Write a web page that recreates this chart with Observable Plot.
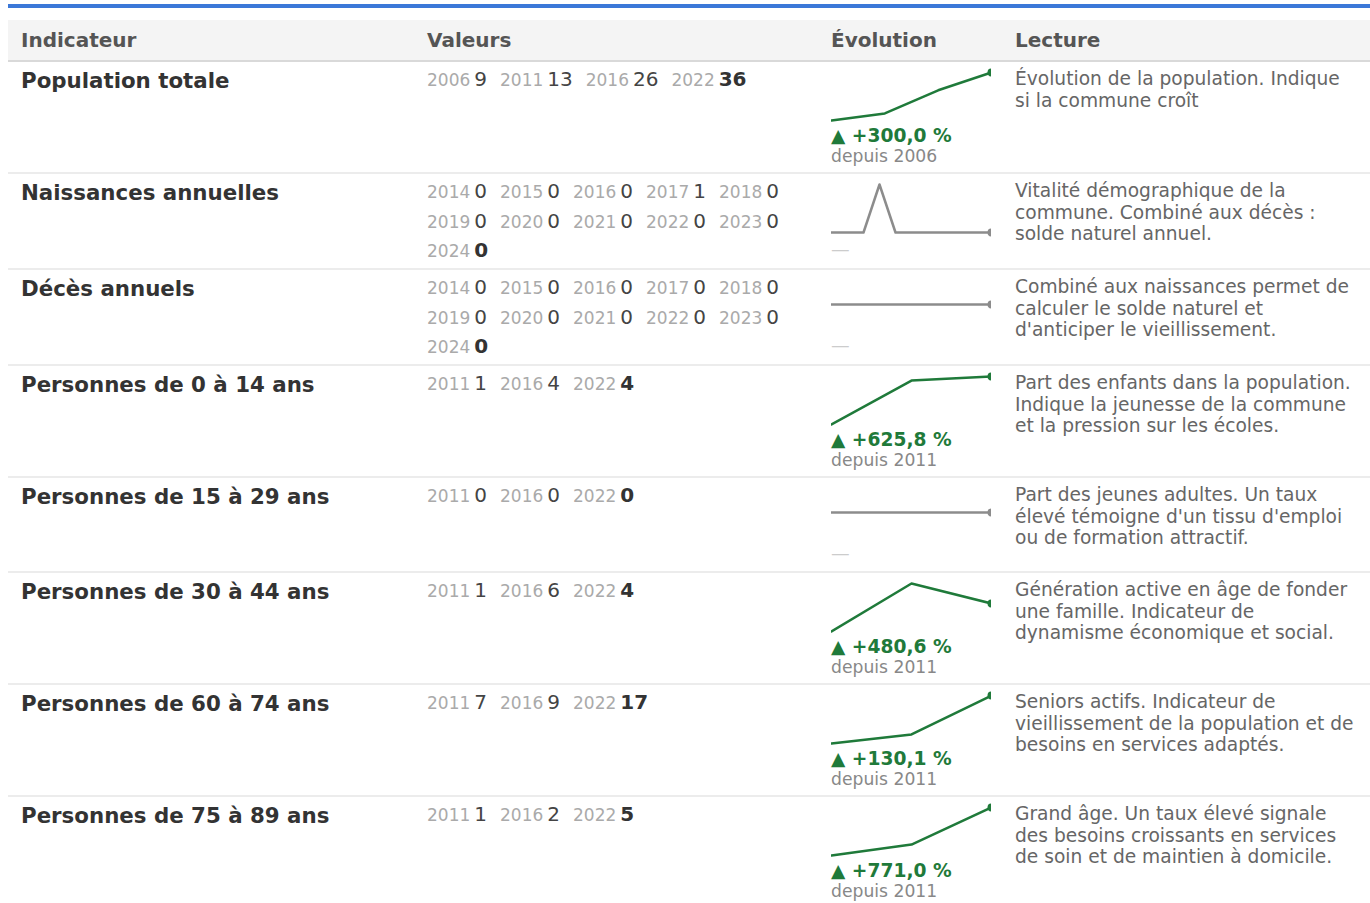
<!DOCTYPE html>
<html lang="fr">
<head>
<meta charset="utf-8">
<script src="https://cdn.jsdelivr.net/npm/d3@7"></script>
<script src="https://cdn.jsdelivr.net/npm/@observablehq/plot@0.6"></script>
<style>
html, body { margin:0; padding:0; background:#fff; }
body { font-family: "DejaVu Sans", sans-serif; }
#wrap { position:absolute; left:8px; top:4px; width:1362px; border-top:4px solid #3b78d8; padding-top:12px; }
table { border-collapse: collapse; table-layout: fixed; width:1362px; }
th { background:#f4f4f4; color:#555; font-weight:bold; font-size:20px; line-height:24px; text-align:left; padding:8px 12px 8px 13px; border-bottom:2px solid #d9d9d9; }
td { vertical-align: top; padding:5px 12px 5px 13px; border-bottom:2px solid #ececec; }
td.evo { padding-right:11px; }
td.lec, th.lec { padding-right:13px; }
td.lec { padding-top:6px; }
td.ind { font-weight:bold; font-size:21.33px; line-height:27px; color:#333; }
.vals { display:flex; flex-wrap:wrap; column-gap:13px; row-gap:4.5px; }
.item { display:block; height:25px; line-height:25px; white-space:nowrap; }
.yr { font-size:17px; color:#aaa; margin-right:4px; }
.v { font-size:20px; color:#444; }
.v.last { font-weight:bold; color:#333; }
td.lec { font-size:18.64px; line-height:21.5px; color:#666; }
.chg { font-weight:bold; font-size:18.67px; line-height:21px; height:21px; white-space:nowrap; }
.since { font-size:17.2px; line-height:21px; height:21px; color:#888; }
.dash { font-size:18.67px; line-height:25px; height:25px; color:#ccc; }
svg.spark { display:block; overflow:hidden; }
</style>
</head>
<body>
<div id="wrap"></div>
<script>
// ---- Data ----
const indicateurs = [
  "Population totale",
  "Naissances annuelles",
  "Décès annuels",
  "Personnes de 0 à 14 ans",
  "Personnes de 15 à 29 ans",
  "Personnes de 30 à 44 ans",
  "Personnes de 60 à 74 ans",
  "Personnes de 75 à 89 ans"
];
const anneesPopulation = [2006, 2011, 2016, 2022];
const anneesEtatCivil = [2014, 2015, 2016, 2017, 2018, 2019, 2020, 2021, 2022, 2023, 2024];
const anneesAges = [2011, 2016, 2022];

const population = [9, 13, 26, 36];
const naissances = [0, 0, 0, 1, 0, 0, 0, 0, 0, 0, 0];
const deces = [0, 0, 0, 0, 0, 0, 0, 0, 0, 0, 0];
const age0a14 = [0.5511, 3.71, 4.0];
const age15a29 = [0, 0, 0];
const age30a44 = [0.66, 6.1, 3.832];
const age60a74 = [7.2, 8.96, 16.567];
const age75a89 = [0.55, 1.52, 4.7905];

const lectures = [
  "Évolution de la population. Indique si la commune croît",
  "Vitalité démographique de la commune. Combiné aux décès\u00a0: solde naturel annuel.",
  "Combiné aux naissances permet de calculer le solde naturel et d'anticiper le vieillissement.",
  "Part des enfants dans la population. Indique la jeunesse de la commune et la pression sur les écoles.",
  "Part des jeunes adultes. Un taux élevé témoigne d'un tissu d'emploi ou de formation attractif.",
  "Génération active en âge de fonder une famille. Indicateur de dynamisme économique et social.",
  "Seniors actifs. Indicateur de vieillissement de la population et de besoins en services adaptés.",
  "Grand âge. Un taux élevé signale des besoins croissants en services de soin et de maintien à domicile."
];
const entetes = ["Indicateur", "Valeurs", "Évolution", "Lecture"];

const annees = [anneesPopulation, anneesEtatCivil, anneesEtatCivil, anneesAges, anneesAges, anneesAges, anneesAges, anneesAges];
const series = [population, naissances, deces, age0a14, age15a29, age30a44, age60a74, age75a89];

const GREEN = "#1f7a3a", GRAY = "#8c8c8c";
const colWidths = [406, 404, 184, 368];

// ---- Build ----
const wrap = document.getElementById("wrap");
const table = document.createElement("table");
const colgroup = document.createElement("colgroup");
colWidths.forEach(w => { const c = document.createElement("col"); c.style.width = w + "px"; colgroup.appendChild(c); });
table.appendChild(colgroup);
const thead = document.createElement("thead");
const hr = document.createElement("tr");
entetes.forEach((h, j) => { const th = document.createElement("th"); th.textContent = h; if (j === 3) th.className = "lec"; hr.appendChild(th); });
thead.appendChild(hr);
table.appendChild(thead);
const tbody = document.createElement("tbody");

function fmtPct(p) {
  return (p >= 0 ? "+" : "") + p.toFixed(1).replace(".", ",") + "\u00a0%";
}

indicateurs.forEach((name, k) => {
  const ys = annees[k], vs = series[k];
  const tr = document.createElement("tr");
  // Indicator
  const td1 = document.createElement("td"); td1.className = "ind"; td1.textContent = name; tr.appendChild(td1);
  // Values
  const td2 = document.createElement("td");
  const vals = document.createElement("div"); vals.className = "vals";
  ys.forEach((y, i) => {
    const it = document.createElement("span"); it.className = "item";
    const a = document.createElement("span"); a.className = "yr"; a.textContent = y;
    const b = document.createElement("span"); b.className = "v" + (i === ys.length - 1 ? " last" : ""); b.textContent = Math.round(vs[i]);
    it.appendChild(a); it.appendChild(b); vals.appendChild(it);
  });
  td2.appendChild(vals); tr.appendChild(td2);
  // Evolution
  const td3 = document.createElement("td"); td3.className = "evo";
  const first = vs[0], last = vs[vs.length - 1];
  const hasPct = first !== 0;
  const pct = hasPct ? (last / first - 1) * 100 : null;
  const color = hasPct && pct > 0 ? GREEN : GRAY;
  const data = vs.map((v, i) => ({i, v}));
  let lo = d3.min(vs), hi = d3.max(vs);
  if (lo === hi) { lo -= 1; hi += 1; }
  const svg = Plot.plot({
    width: 160, height: 58,
    marginLeft: 0, marginRight: 0, marginTop: 5, marginBottom: 5,
    x: {axis: null, domain: [0, vs.length - 1]},
    y: {axis: null, domain: [lo, hi]},
    style: {overflow: "hidden", background: "transparent"},
    marks: [
      Plot.line(data, {x: "i", y: "v", stroke: color, strokeWidth: 2.5}),
      Plot.dot([data[data.length - 1]], {x: "i", y: "v", r: 4, fill: color})
    ]
  });
  svg.classList.add("spark");
  td3.appendChild(svg);
  if (hasPct) {
    const c = document.createElement("div"); c.className = "chg"; c.style.color = color;
    c.textContent = (pct >= 0 ? "\u25B2 " : "\u25BC ") + fmtPct(pct);
    const s = document.createElement("div"); s.className = "since"; s.textContent = "depuis " + ys[0];
    td3.appendChild(c); td3.appendChild(s);
  } else {
    const d = document.createElement("div"); d.className = "dash"; d.textContent = "\u2014";
    td3.appendChild(d);
  }
  tr.appendChild(td3);
  // Lecture
  const td4 = document.createElement("td"); td4.className = "lec"; td4.textContent = lectures[k]; tr.appendChild(td4);
  tbody.appendChild(tr);
});
table.appendChild(tbody);
wrap.appendChild(table);
</script>
</body>
</html>
